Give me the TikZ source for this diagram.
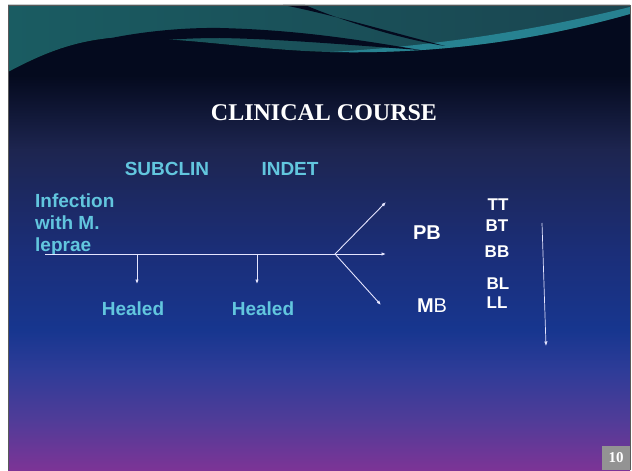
\documentclass[tikz,border=0pt]{standalone}
\usepackage{fontspec}
\setmainfont{Liberation Sans}
\newfontfamily\titlefont{Liberation Serif}
\usetikzlibrary{arrows.meta,shapes}

\definecolor{stagecyan}{HTML}{62C6DE}
\definecolor{deepnavy}{HTML}{040A1E}
\definecolor{bgA}{HTML}{1D2550}
\definecolor{bgB}{HTML}{1B2E78}
\definecolor{bgC}{HTML}{17368F}
\definecolor{bgD}{HTML}{2E3C98}
\definecolor{bgE}{HTML}{503C98}
\definecolor{bgF}{HTML}{7C3496}
\definecolor{waveA}{HTML}{1A5C62}
\definecolor{waveB}{HTML}{1A4550}
\definecolor{waveC}{HTML}{2A8C9C}

\begin{document}
\begin{tikzpicture}[x=1pt,y=-1pt,
    stage/.style={text=stagecyan, font=\fontsize{19}{22}\selectfont\bfseries, inner sep=0pt},
    form/.style={text=white, font=\fontsize{17}{20}\selectfont\bfseries, inner sep=0pt},
    group/.style={text=white, font=\fontsize{20}{24}\selectfont, inner sep=0pt},
    course/.style={white!90!blue, line width=0.9pt},
    >={Latex[length=4.5pt,width=3.5pt]}]
    % slide background
    \fill[white] (0,0) rectangle (632,470);
    \fill[deepnavy] (8,5) rectangle (630,76);
    \fill[top color=deepnavy, bottom color=bgA] (8,75.5) rectangle (630,150.5);
    \fill[top color=bgA, bottom color=bgB] (8,150) rectangle (630,250.5);
    \fill[top color=bgB, bottom color=bgC] (8,250) rectangle (630,330.5);
    \fill[top color=bgC, bottom color=bgD] (8,330) rectangle (630,370.5);
    \fill[top color=bgD, bottom color=bgE] (8,370) rectangle (630,420.5);
    \fill[top color=bgE, bottom color=bgF] (8,420) rectangle (630,470);
    % wave on top
    \fill[left color=waveA, right color=waveB] (8,5) -- (630,5) -- (630,14)
      .. controls (520,45) and (420,54) .. (330,52)
      .. controls (250,50) and (180,36) .. (110,38)
      .. controls (70,42) and (40,55) .. (8,72) -- cycle;
    \fill[waveC, opacity=0.85] (630,14) .. controls (520,45) and (420,54) .. (330,52)
      .. controls (420,47) and (520,34) .. (630,7) -- cycle;
    \fill[deepnavy] (25,66) .. controls (70,42) and (150,27) .. (220,28)
      .. controls (300,30) and (360,40) .. (420,50)
      .. controls (350,45) and (280,39) .. (220,38)
      .. controls (150,38) and (80,48) .. (25,66) -- cycle;
    \fill[deepnavy] (283,5) .. controls (330,14) and (390,32) .. (445,46)
      .. controls (395,38) and (335,18) .. (305,5) -- cycle;
    \draw[gray!70!black, line width=0.8pt] (8,470) -- (8,5) -- (630,5) -- (630,470);

    % texts
    \node[font=\titlefont\fontsize{24}{28}\selectfont\bfseries, text=white] (title) at (324,113) {CLINICAL COURSE};
    \node[stage] (subclin) at (167,169) {SUBCLIN};
    \node[stage] (indet) at (290,169) {INDET};
    \node[stage, align=left, anchor=north west] (infection) at (35,194) {Infection\\with M.\\leprae};
    \node[stage] (healedA) at (133,309) {Healed};
    \node[stage] (healedB) at (263,309) {Healed};
    \node[group] (pb) at (427,233) {\bfseries PB};
    \node[group] (mb) at (432,306) {\textbf{M}B};
    \node[form] (tt) at (498,205) {TT};
    \node[form] (bt) at (497,226) {BT};
    \node[form] (bb) at (497,252) {BB};
    \node[form] (bl) at (498,284) {BL};
    \node[form] (ll) at (497,303) {LL};
    \node[fill=gray!85, text=white, font=\titlefont\fontsize{15}{18}\selectfont\bfseries,
      minimum width=28pt, minimum height=24pt, inner sep=0pt] (pagenum) at (616,458) {10};

    % connectors
    \coordinate (origin) at (45,254);
    \coordinate (branchA) at (137,254);
    \coordinate (branchB) at (257,254);
    \coordinate (fork) at (335,254);
    \coordinate (healA) at (137,284);
    \coordinate (healB) at (257,284);
    \coordinate (pbEnd) at (386,202);
    \coordinate (midEnd) at (386,254);
    \coordinate (mbEnd) at (381,305);
    \coordinate (scaleTop) at (542,223);
    \coordinate (scaleEnd) at (546,346);
    \draw[course] (origin) -- (fork);
    \path[course, ->]
      (branchA) edge (healA)
      (branchB) edge (healB)
      (fork) edge (pbEnd)
      (fork) edge (midEnd)
      (fork) edge (mbEnd);
    \draw[course, ->, line width=0.7pt] (scaleTop) -- (scaleEnd);
\end{tikzpicture}
\end{document}
